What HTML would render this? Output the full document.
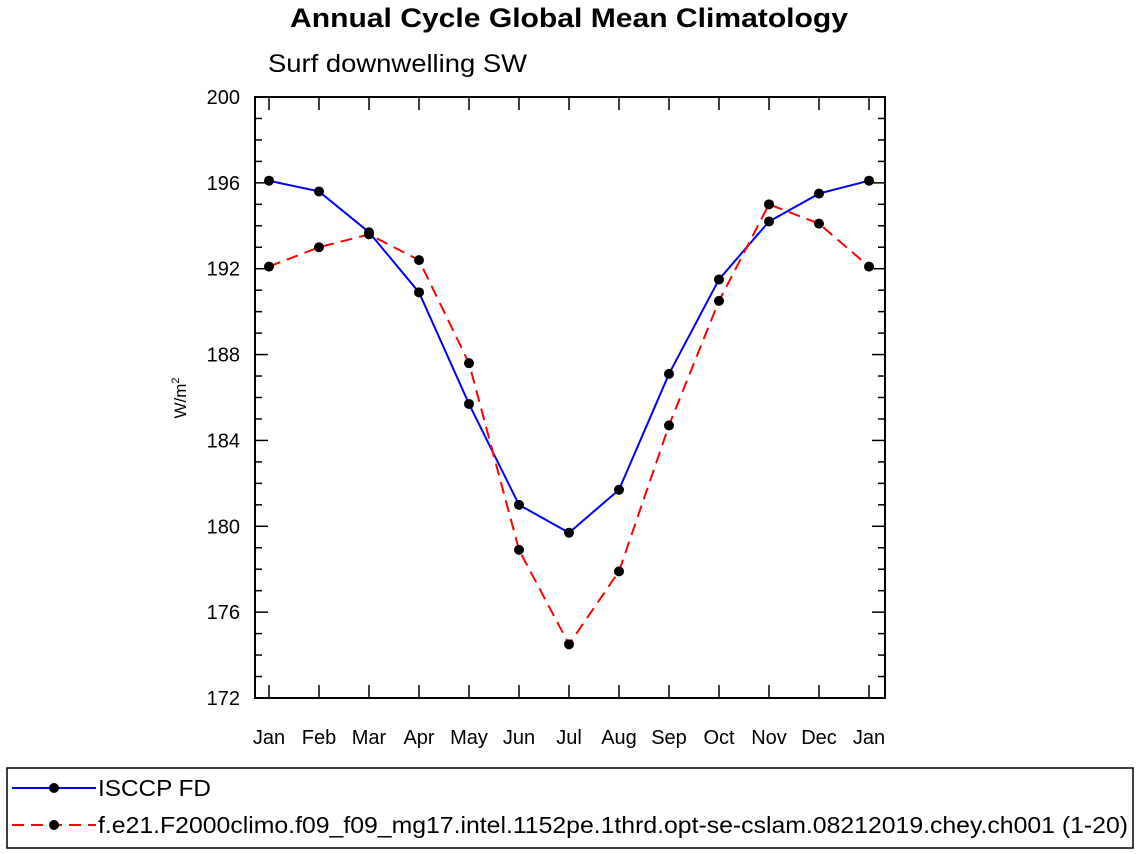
<!DOCTYPE html>
<html><head><meta charset="utf-8"><style>body{margin:0;background:#fff}svg{display:block;font-family:"Liberation Sans",Arial,sans-serif}</style></head>
<body>
<svg id="c" width="1138" height="854">
<text x="569" y="27" text-anchor="middle" font-size="27" font-weight="bold" textLength="558" lengthAdjust="spacingAndGlyphs">Annual Cycle Global Mean Climatology</text>
<text x="268" y="72" font-size="25" textLength="259" lengthAdjust="spacingAndGlyphs">Surf downwelling SW</text>
<text transform="translate(186,398) rotate(-90)" text-anchor="middle" font-size="17">W/m<tspan dy="-7" font-size="11">2</tspan></text>
<g id="axes"></g><g id="series"></g>
<rect x="7" y="768" width="1126" height="80" fill="none" stroke="#000" stroke-width="1.5"/>
<line x1="12" y1="788" x2="96" y2="788" stroke="#0000ff" stroke-width="2"/>
<circle cx="54" cy="788" r="5"/>
<text x="98" y="796" font-size="23" textLength="113" lengthAdjust="spacingAndGlyphs">ISCCP FD</text>
<line x1="12" y1="825" x2="96" y2="825" stroke="#ff0000" stroke-width="2" stroke-dasharray="12,7"/>
<circle cx="54" cy="825" r="5"/>
<text x="98" y="833" font-size="23" textLength="1030" lengthAdjust="spacingAndGlyphs">f.e21.F2000climo.f09_f09_mg17.intel.1152pe.1thrd.opt-se-cslam.08212019.chey.ch001 (1-20)</text>
</svg>
<script>
const months=["Jan","Feb","Mar","Apr","May","Jun","Jul","Aug","Sep","Oct","Nov","Dec","Jan"];
const isccp=[196.1,195.6,193.7,190.9,185.7,181.0,179.7,181.7,187.1,191.5,194.2,195.5,196.1];
const model=[192.1,193.0,193.6,192.4,187.6,178.9,174.5,177.9,184.7,190.5,195.0,194.1,192.1];
const yTicks=[172,176,180,184,188,192,196,200];
const NS="http://www.w3.org/2000/svg";
const L=255,R=885,T=97,B=698,ymin=172,ymax=200;
const xs=i=>269+i*50, ys=v=>B-(v-ymin)/(ymax-ymin)*(B-T);
function mk(t,a,p){const e=document.createElementNS(NS,t);for(const k in a)e.setAttribute(k,a[k]);p.appendChild(e);return e;}
const ax=document.getElementById('axes'),se=document.getElementById('series');
const frame=mk('rect',{x:L,y:T,width:R-L,height:B-T,fill:'none',stroke:'#000','stroke-width':2},ax);


for(let v=ymin;v<=ymax;v++){const maj=(v-ymin)%4===0,len=maj?13:7,y=ys(v);
 const t1=mk('line',{x1:L,y1:y,x2:L+len,y2:y,stroke:'#000','stroke-width':1.5},ax);
 
 
 const t2=mk('line',{x1:R,y1:y,x2:R-len,y2:y,stroke:'#000','stroke-width':1.5},ax);
 
 }
yTicks.forEach(v=>{const t=mk('text',{x:L-15,y:ys(v)+7,'text-anchor':'end','font-size':20},ax);t.textContent=v;
 
 });
months.forEach((m,i)=>{const x=xs(i);
 const a=mk('line',{x1:x,y1:B,x2:x,y2:B-13,stroke:'#000','stroke-width':1.5},ax);
 
 
 const b=mk('line',{x1:x,y1:T,x2:x,y2:T+13,stroke:'#000','stroke-width':1.5},ax);
 
 
 const t=mk('text',{x:x,y:744,'text-anchor':'middle','font-size':20},ax);t.textContent=m;
 
 });
function draw(vals,color,dash,name){
 const pl=mk('polyline',{points:vals.map((v,i)=>xs(i)+','+ys(v)).join(' '),fill:'none',stroke:color,'stroke-width':2,'stroke-dasharray':dash},se);
 
 
 vals.forEach((v,i)=>{const c=mk('circle',{cx:xs(i),cy:ys(v),r:5,fill:'#000'},se);
  
  });
}
draw(isccp,'#0000ff','none','isccp');
draw(model,'#ff0000','12,7','model');
</script>
</body></html>
